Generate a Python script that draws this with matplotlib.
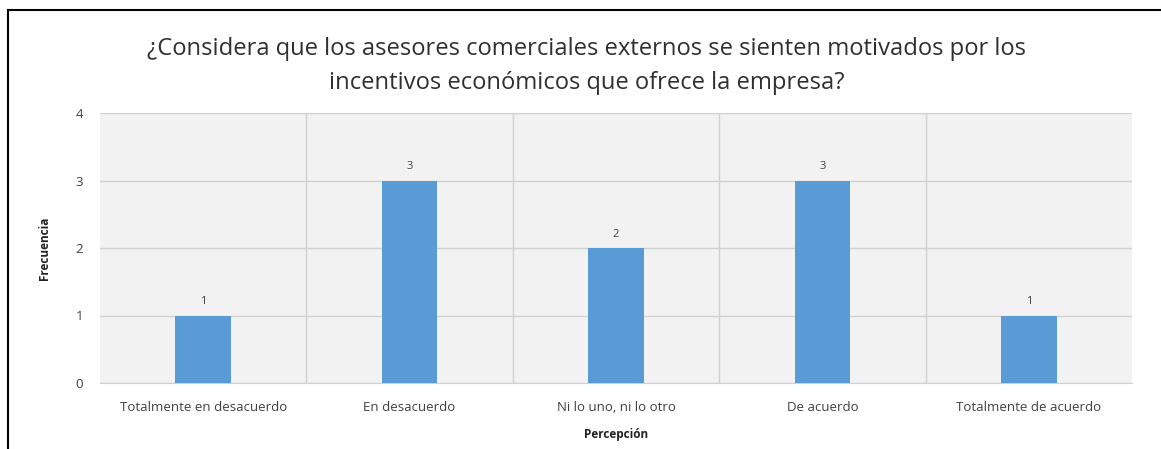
import matplotlib
matplotlib.use("Agg")
import matplotlib.pyplot as plt
from matplotlib.lines import Line2D

categories = ["Totalmente en desacuerdo", "En desacuerdo", "Ni lo uno, ni lo otro",
              "De acuerdo", "Totalmente de acuerdo"]
values = [1, 3, 2, 3, 1]
yticks = [0, 1, 2, 3, 4]
title = "¿Considera que los asesores comerciales externos se sienten motivados por los\nincentivos económicos que ofrece la empresa?"

plt.rcParams['font.family'] = ['Open Sans', 'DejaVu Sans']

fig = plt.figure(figsize=(11.61, 4.49), dpi=100)
ax = fig.add_axes([100/1161, 1-383/449, 1032/1161, 270/449])
ax.set_facecolor("#f2f2f2")

x = list(range(len(categories)))
bars = ax.bar(x, values, width=0.27, color="#5b9bd5", zorder=3)
for xi, v in zip(x, values):
    ax.text(xi, v + 0.12, str(v), ha="center", va="bottom", fontsize=8, color="#404040")

ax.set_xlim(-0.5, len(categories) - 0.5)
ax.set_ylim(0, 4)
ax.set_yticks(yticks)
ax.set_xticks(x)
ax.set_xticklabels(categories, fontsize=9.5, color="#404040")
ax.tick_params(axis="both", length=0, colors="#404040")
ax.tick_params(axis="y", labelsize=9.5, pad=12)
ax.tick_params(axis="x", pad=13)
ax.yaxis.grid(True, color="#d0d0d0", linewidth=1, zorder=0)
for b in [0.5, 1.5, 2.5, 3.5]:
    ax.axvline(b, color="#d0d0d0", linewidth=1, zorder=0)
for s in ax.spines.values():
    s.set_visible(False)
ax.spines["bottom"].set_visible(True)
ax.spines["bottom"].set_color("#d0d0d0")

ax.set_ylabel("Frecuencia", fontsize=8.5, fontweight="bold", color="#222222", labelpad=18)
ax.set_xlabel("Percepción", fontsize=8.5, fontweight="bold", color="#222222", labelpad=10)

fig.text(0.505, 1-66/449, title, ha="center", va="center", fontsize=17.1,
         color="#303030", linespacing=1.6)

# outer frame lines (left and top)
fig.add_artist(Line2D([8/1161, 8/1161], [0, 1-10/449], transform=fig.transFigure,
                      color="black", linewidth=1.5))
fig.add_artist(Line2D([8/1161, 1], [1-10/449, 1-10/449], transform=fig.transFigure,
                      color="black", linewidth=1.5))

fig.savefig("out.png", dpi=100, facecolor="white")
